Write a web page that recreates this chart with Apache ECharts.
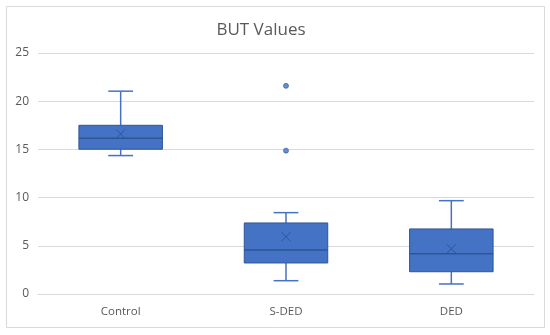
<!DOCTYPE html>
<html>
<head>
<meta charset="utf-8">
<script src="https://cdn.jsdelivr.net/npm/echarts@6/dist/echarts.min.js"></script>
<style>
html,body{margin:0;padding:0;background:#fff;}
#chart{width:550px;height:335px;}
</style>
</head>
<body>
<div id="chart"></div>
<script>
var categories = ['Control', 'S-DED', 'DED'];
var whiskerMin = [14.36, 1.38, 1.04];
var q1Values = [15.02, 3.22, 2.31];
var medianValues = [16.16, 4.57, 4.18];
var q3Values = [17.5, 7.37, 6.75];
var whiskerMax = [21.04, 8.44, 9.68];
var meanValues = [16.6, 5.95, 4.7];
var outlierCategory = ['S-DED', 'S-DED'];
var outlierValues = [21.59, 14.87];
var yTicks = [0, 5, 10, 15, 20, 25];

var boxData = categories.map(function (c, i) {
  return [i, whiskerMin[i], q1Values[i], medianValues[i], q3Values[i], whiskerMax[i], meanValues[i]];
});
var outlierData = outlierValues.map(function (v, i) {
  return [outlierCategory[i], v];
});

var chart = echarts.init(document.getElementById('chart'));
var FONT = '"Open Sans", "Noto Sans", sans-serif';

function renderBox(params, api) {
  var idx = api.value(0);
  var band = api.size([1, 0])[0];
  var bw = band * 0.505;
  var cw = band * 0.15;
  var pMin = api.coord([idx, api.value(1)]);
  var pQ1 = api.coord([idx, api.value(2)]);
  var pMed = api.coord([idx, api.value(3)]);
  var pQ3 = api.coord([idx, api.value(4)]);
  var pMax = api.coord([idx, api.value(5)]);
  var pMean = api.coord([idx, api.value(6)]);
  var x = pMed[0];
  var wStyle = {stroke: '#4472C4', lineWidth: 1.5, fill: null};
  var ms = 4.5;
  return {
    type: 'group',
    children: [
      {type: 'line', shape: {x1: x, y1: pMax[1], x2: x, y2: pQ3[1]}, style: wStyle},
      {type: 'line', shape: {x1: x - cw / 2, y1: pMax[1], x2: x + cw / 2, y2: pMax[1]}, style: wStyle},
      {type: 'line', shape: {x1: x, y1: pQ1[1], x2: x, y2: pMin[1]}, style: wStyle},
      {type: 'line', shape: {x1: x - cw / 2, y1: pMin[1], x2: x + cw / 2, y2: pMin[1]}, style: wStyle},
      {type: 'rect', shape: {x: x - bw / 2, y: pQ3[1], width: bw, height: pQ1[1] - pQ3[1]},
        style: {fill: '#4472C4', stroke: '#2F5597', lineWidth: 1}},
      {type: 'line', shape: {x1: x - bw / 2, y1: pMed[1], x2: x + bw / 2, y2: pMed[1]},
        style: {stroke: '#2F5597', lineWidth: 1.5}},
      {type: 'line', shape: {x1: x - ms, y1: pMean[1] - ms, x2: x + ms, y2: pMean[1] + ms},
        style: {stroke: '#2F5597', lineWidth: 1}},
      {type: 'line', shape: {x1: x - ms, y1: pMean[1] + ms, x2: x + ms, y2: pMean[1] - ms},
        style: {stroke: '#2F5597', lineWidth: 1}}
    ]
  };
}

chart.setOption({
  animation: false,
  backgroundColor: '#fff',
  title: {
    text: 'BUT Values',
    left: 256,
    textAlign: 'center',
    top: 17,
    textStyle: {fontFamily: FONT, fontSize: 17, fontWeight: 'normal', color: '#595959'}
  },
  graphic: [{
    type: 'rect',
    shape: {x: 6.5, y: 6.5, width: 538, height: 321},
    style: {fill: null, stroke: '#D9D9D9', lineWidth: 1},
    silent: true
  }],
  grid: {left: 38, right: 16, top: 53, bottom: 41, containLabel: false},
  xAxis: {
    type: 'category',
    data: categories,
    axisLine: {show: true, lineStyle: {color: '#D9D9D9', width: 1}},
    axisTick: {show: false},
    axisLabel: {fontFamily: FONT, fontSize: 11.5, color: '#595959', margin: 12},
    splitLine: {show: false}
  },
  yAxis: {
    type: 'value',
    min: yTicks[0],
    max: yTicks[yTicks.length - 1],
    interval: 5,
    axisLine: {show: false},
    axisTick: {show: false},
    axisLabel: {fontFamily: FONT, fontSize: 12, color: '#595959', margin: 9},
    splitLine: {lineStyle: {color: '#D9D9D9', width: 1}}
  },
  series: [
    {
      type: 'custom',
      renderItem: renderBox,
      data: boxData,
      encode: {x: 0, y: [1, 2, 3, 4, 5, 6]},
      z: 3
    },
    {
      type: 'scatter',
      data: outlierData,
      symbol: 'circle',
      symbolSize: 5,
      itemStyle: {color: '#4472C4', borderColor: '#2F5597', borderWidth: 0.8},
      z: 4
    }
  ]
});
</script>
</body>
</html>
